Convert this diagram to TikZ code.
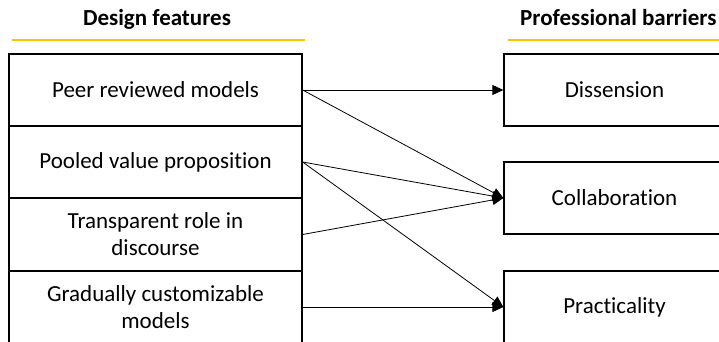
\documentclass[tikz,border=0pt]{standalone}
\usepackage{fontspec}
\setmainfont{Carlito}[Ligatures=NoCommon]
\usetikzlibrary{arrows.meta}
\definecolor{gold}{HTML}{FFC000}
\begin{document}
\begin{tikzpicture}[x=1pt,y=-1pt,
  box/.style={draw=black,line width=1.3pt,minimum height=72pt,align=center,inner sep=0pt,
    font=\fontsize{23}{27}\selectfont},
  lbox/.style={box,minimum width=293pt},
  rbox/.style={box,minimum width=221pt},
  head/.style={font=\fontsize{23}{27}\selectfont\bfseries,anchor=base,inner sep=0pt},
  conn/.style={line width=0.8pt,-{Triangle[length=11pt,width=10pt]}},
  rule/.style={draw=gold,line width=2pt}]
\clip (0,0) rectangle (719,341);
\node[head] (h1) at (157,25) {Design features};
\node[head,anchor=base west] (h2) at (520,25) {Professional barriers};
\draw[rule] (12,40) -- (305,40);
\draw[rule] (508,40) -- (730,40);
\node[lbox] (l1) at (155.5,90) {Peer reviewed models};
\node[lbox] (l2) at (155.5,162) {Pooled value proposition};
\node[lbox] (l3) at (155.5,234.5) {Transparent role in\\discourse};
\node[lbox] (l4) at (155.5,307) {Gradually customizable\\models};
\node[rbox] (r1) at (614.5,90) {Dissension};
\node[rbox] (r2) at (614.5,198) {Collaboration};
\node[rbox] (r3) at (614.5,307) {Practicality};
\draw[conn] (l1.east) -- (r1.west);
\draw[conn] (l1.east) -- (r2.west);
\draw[conn] (l2.east) -- (r2.west);
\draw[conn] (l2.east) -- (r3.west);
\draw[conn] (l3.east) -- (r2.west);
\draw[conn] (l4.east) -- (r3.west);
\end{tikzpicture}
\end{document}
